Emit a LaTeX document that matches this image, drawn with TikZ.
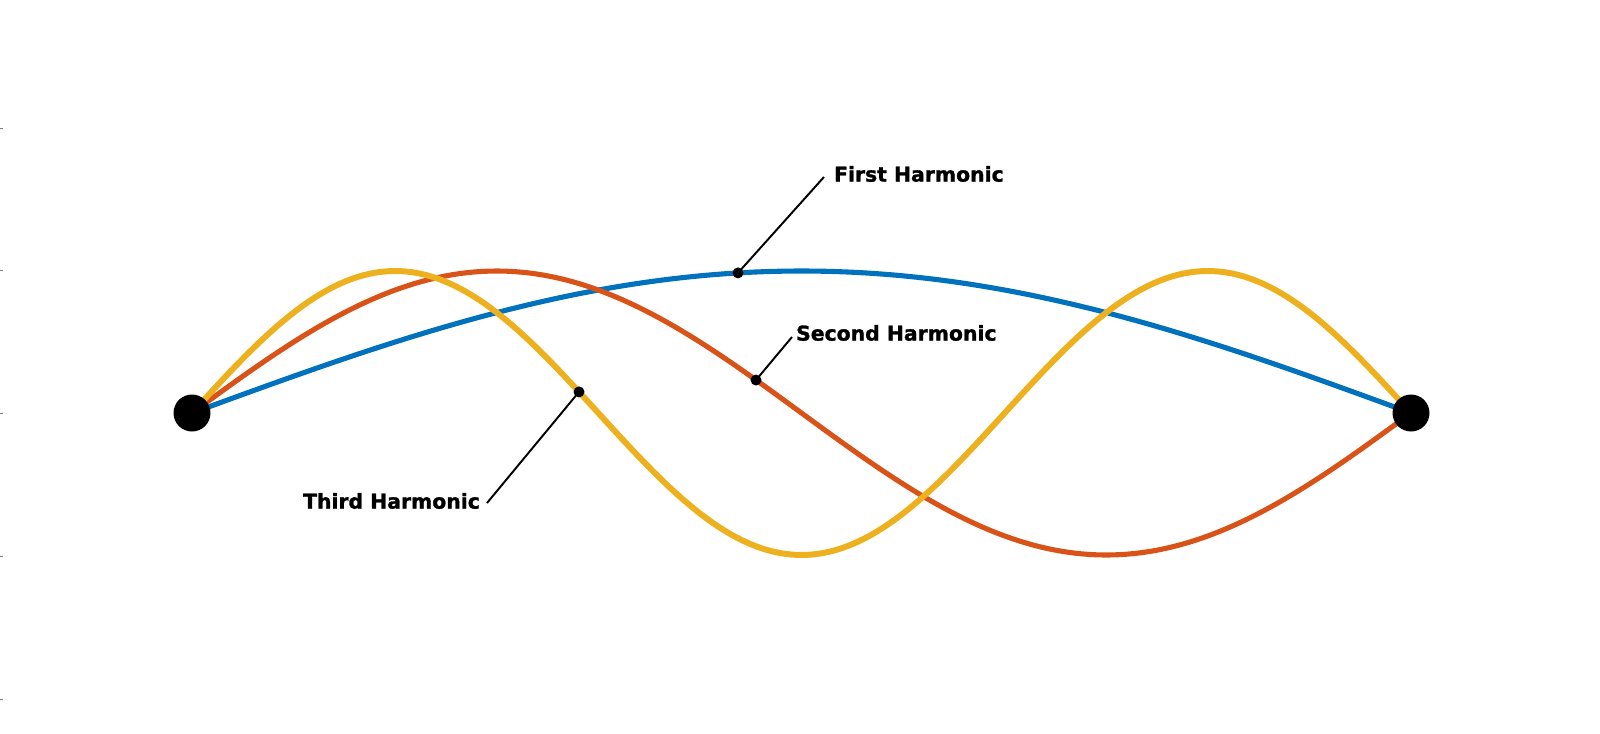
\documentclass[tikz,border=0pt]{standalone}
\usepackage{fontspec}
\setmainfont{DejaVu Sans}[BoldFeatures={FakeBold=1.3}]
\usetikzlibrary{positioning}

\definecolor{harmblue}{rgb}{0,0.447,0.741}
\definecolor{harmorange}{rgb}{0.850,0.325,0.098}
\definecolor{harmyellow}{rgb}{0.929,0.694,0.125}

\begin{document}
\begin{tikzpicture}[
x=0.02cm, y=-0.02cm,
wave/.style={line width=2.9pt, line join=round},
endpin/.style={circle, fill=black, inner sep=0pt, minimum size=0.74cm},
tagdot/.style={circle, fill=black, inner sep=0pt, minimum size=0.22cm},
tag/.style={font=\bfseries\fontsize{11.6}{14}\selectfont, inner sep=1pt},
leader/.style={line width=1.1pt},
tick/.style={line width=0.4pt, gray}
]
\useasboundingbox (0,0) rectangle (1600,734);

% axis ticks on the left edge
\foreach \ty in {128,270,413,556,699}
  \draw[tick] (0,\ty) -- (3,\ty);

% the three standing waves
\draw[wave, harmblue] plot[domain=0:1, samples=120] ({192+1219*\x},{413-142*sin(180*\x)});
\draw[wave, harmorange] plot[domain=0:1, samples=160] ({192+1219*\x},{413-142*sin(360*\x)});
\draw[wave, harmyellow, line width=3.4pt] plot[domain=0:1, samples=200] ({192+1219*\x},{413-142*sin(540*\x)});

% fixed ends
\node[endpin] (lend) at (192,413) {};
\node[endpin] (rend) at (1411,413) {};

% points marked on the curves
\node[tagdot] (d1) at (738,{413-142*sin(180*0.4481)}) {};
\node[tagdot] (d2) at (756,{413-142*sin(360*0.4627)}) {};
\node[tagdot] (d3) at (579,{413-142*sin(540*0.3175)}) {};

% labels
\node[tag, anchor=west] (t1) at (832,174) {First Harmonic};
\node[tag, anchor=west] (t2) at (794,333) {Second Harmonic};
\node[tag, anchor=east] (t3) at (482,501) {Third Harmonic};

\draw[leader] (t1.west) ++(-8,3) coordinate (c1) -- (d1.center);
\draw[leader] (t2.west) ++(-2,4) coordinate (c2) -- (d2.center);
\draw[leader] (t3.east) ++(5,2) coordinate (c3) -- (d3.center);
\end{tikzpicture}
\end{document}
